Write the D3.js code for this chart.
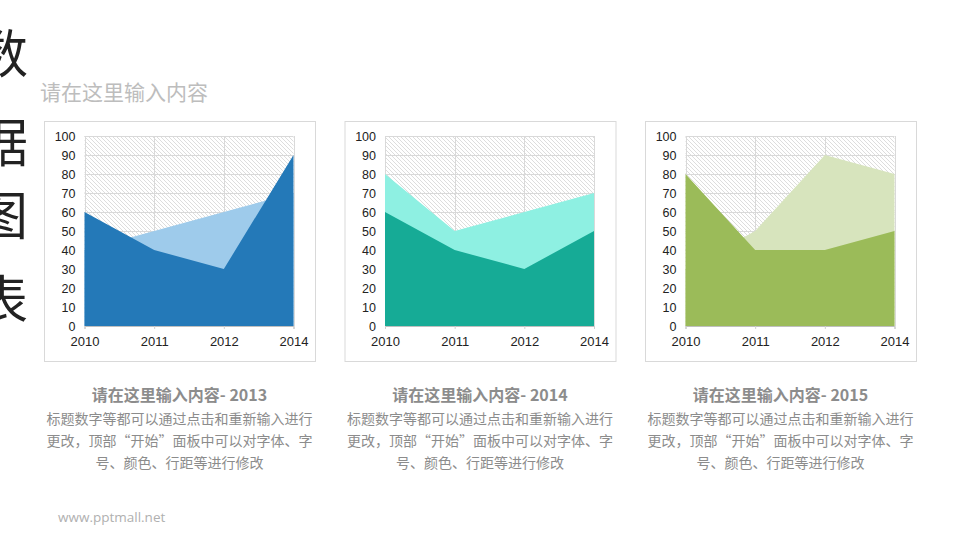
<!DOCTYPE html>
<html><head><meta charset="utf-8">
<script src="https://cdn.jsdelivr.net/npm/d3@7"></script>
<style>
body{margin:0;background:#fff;}
svg{display:block;}
</style></head>
<body>
<svg id="c" width="960" height="540"></svg>
<script>
const categories = ["2010", "2011", "2012", "2014"];
const yTicks = [0,10,20,30,40,50,60,70,80,90,100];
const chartYears = ["2013", "2014", "2015"];
const backSeries = [
  [40, 50, 60, 70],
  [80, 50, 60, 70],
  [30, 50, 90, 80]
];
const frontSeries = [
  [60, 40, 30, 90],
  [60, 40, 30, 50],
  [80, 40, 40, 50]
];
const backColors = ["#9ecbeb", "#8ef0e2", "#d7e4bd"];
const frontColors = ["#2479b8", "#16ab96", "#9bbb59"];
const titleChars = ["数", "据", "图", "表"];
const subtitle = "请在这里输入内容";
const captionTitle = "请在这里输入内容- ";
const captionLines = ["标题数字等都可以通过点击和重新输入进行", "更改，顶部“开始”面板中可以对字体、字", "号、颜色、行距等进行修改"];
const footer = "www.pptmall.net";

const svg = d3.select("#c");
const defs = svg.append("defs");
const pat = defs.append("pattern").attr("id","hatch").attr("patternUnits","userSpaceOnUse")
  .attr("width",4).attr("height",4);
pat.append("rect").attr("width",4).attr("height",4).attr("fill","#fff");
pat.append("path").attr("d","M-1,-1 L5,5 M-1,3 L1,5 M3,-1 L5,1").attr("stroke","#d4d4d4").attr("stroke-width",0.8);

// vertical title
const titleY = [50, 139, 212, 296];
titleChars.forEach((ch,i)=>{
  svg.append("text").attr("x",-24).attr("y",titleY[i]).attr("dominant-baseline","central")
    .attr("font-family","'Noto Sans CJK SC', sans-serif").attr("font-size",52).attr("fill","#222").text(ch);
});
svg.append("text").attr("x",40).attr("y",100).attr("font-family","'Noto Sans CJK SC', sans-serif")
  .attr("font-size",21).attr("fill","#bdbdbd").text(subtitle);

const font = "'Liberation Sans', Arial, sans-serif";
for (let i=0;i<3;i++){
  const bx = 44 + 300.5*i, by = 121, bw = 271, bh = 240;
  const g = svg.append("g");
  g.append("rect").attr("x",bx+0.5).attr("y",by+0.5).attr("width",bw).attr("height",bh)
    .attr("fill","#fff").attr("stroke","#d9d9d9");
  const x = d3.scalePoint().domain(categories).range([bx+40.5, bx+249.5]);
  const y = d3.scaleLinear().domain([0,100]).range([326, 136]);
  const [x0,x1] = x.range();
  g.append("rect").attr("x",x0).attr("y",y(100)).attr("width",x1-x0).attr("height",y(0)-y(100)).attr("fill","url(#hatch)");
  // grid
  g.selectAll(".hg").data(yTicks).enter().append("line")
    .attr("x1",x0).attr("x2",x1).attr("y1",d=>Math.round(y(d))+0.5).attr("y2",d=>Math.round(y(d))+0.5)
    .attr("stroke","#d9d9d9");
  g.selectAll(".vg").data(categories).enter().append("line")
    .attr("x1",d=>Math.round(x(d))+0.5).attr("x2",d=>Math.round(x(d))+0.5).attr("y1",y(100)).attr("y2",y(0))
    .attr("stroke","#d9d9d9");
  const area = d3.area().x((d,j)=>x(categories[j])).y0(y(0)).y1(d=>y(d));
  g.append("path").attr("d",area(backSeries[i])).attr("fill",backColors[i]);
  g.append("path").attr("d",area(frontSeries[i])).attr("fill",frontColors[i]);
  // axes
  const ya = g.append("g").attr("transform",`translate(${x0},0)`)
    .call(d3.axisLeft(y).tickValues(yTicks).tickSize(0).tickPadding(9));
  ya.select(".domain").remove();
  ya.selectAll("text").attr("font-family",font).attr("font-size",12.5).attr("fill","#222");
  const xa = g.append("g").attr("transform",`translate(0,${y(0)})`)
    .call(d3.axisBottom(x).tickSize(3).tickPadding(8));
  xa.select(".domain").attr("stroke","#bfbfbf");
  xa.selectAll("line").attr("stroke","#d0d0d0");
  xa.selectAll("text").attr("font-family",font).attr("font-size",13).attr("fill","#222");
  // caption
  const cx = bx + bw/2;
  g.append("text").attr("x",cx).attr("y",401).attr("text-anchor","middle")
    .attr("font-family","'Noto Sans CJK SC', sans-serif").attr("font-weight","bold").attr("font-size",16)
    .attr("fill","#8c8c8c").text(captionTitle + chartYears[i]);
  captionLines.forEach((t,k)=>{
    g.append("text").attr("x",cx).attr("y",424 + k*22).attr("text-anchor","middle")
      .attr("font-family","'Noto Sans CJK SC', sans-serif").attr("font-size",14)
      .attr("fill","#8c8c8c").text(t);
  });
}
svg.append("text").attr("x",58).attr("y",522).attr("font-family","'Open Sans', sans-serif")
  .attr("font-size",13.5).attr("fill","#b0b0b0").text(footer);
</script>
</body></html>
